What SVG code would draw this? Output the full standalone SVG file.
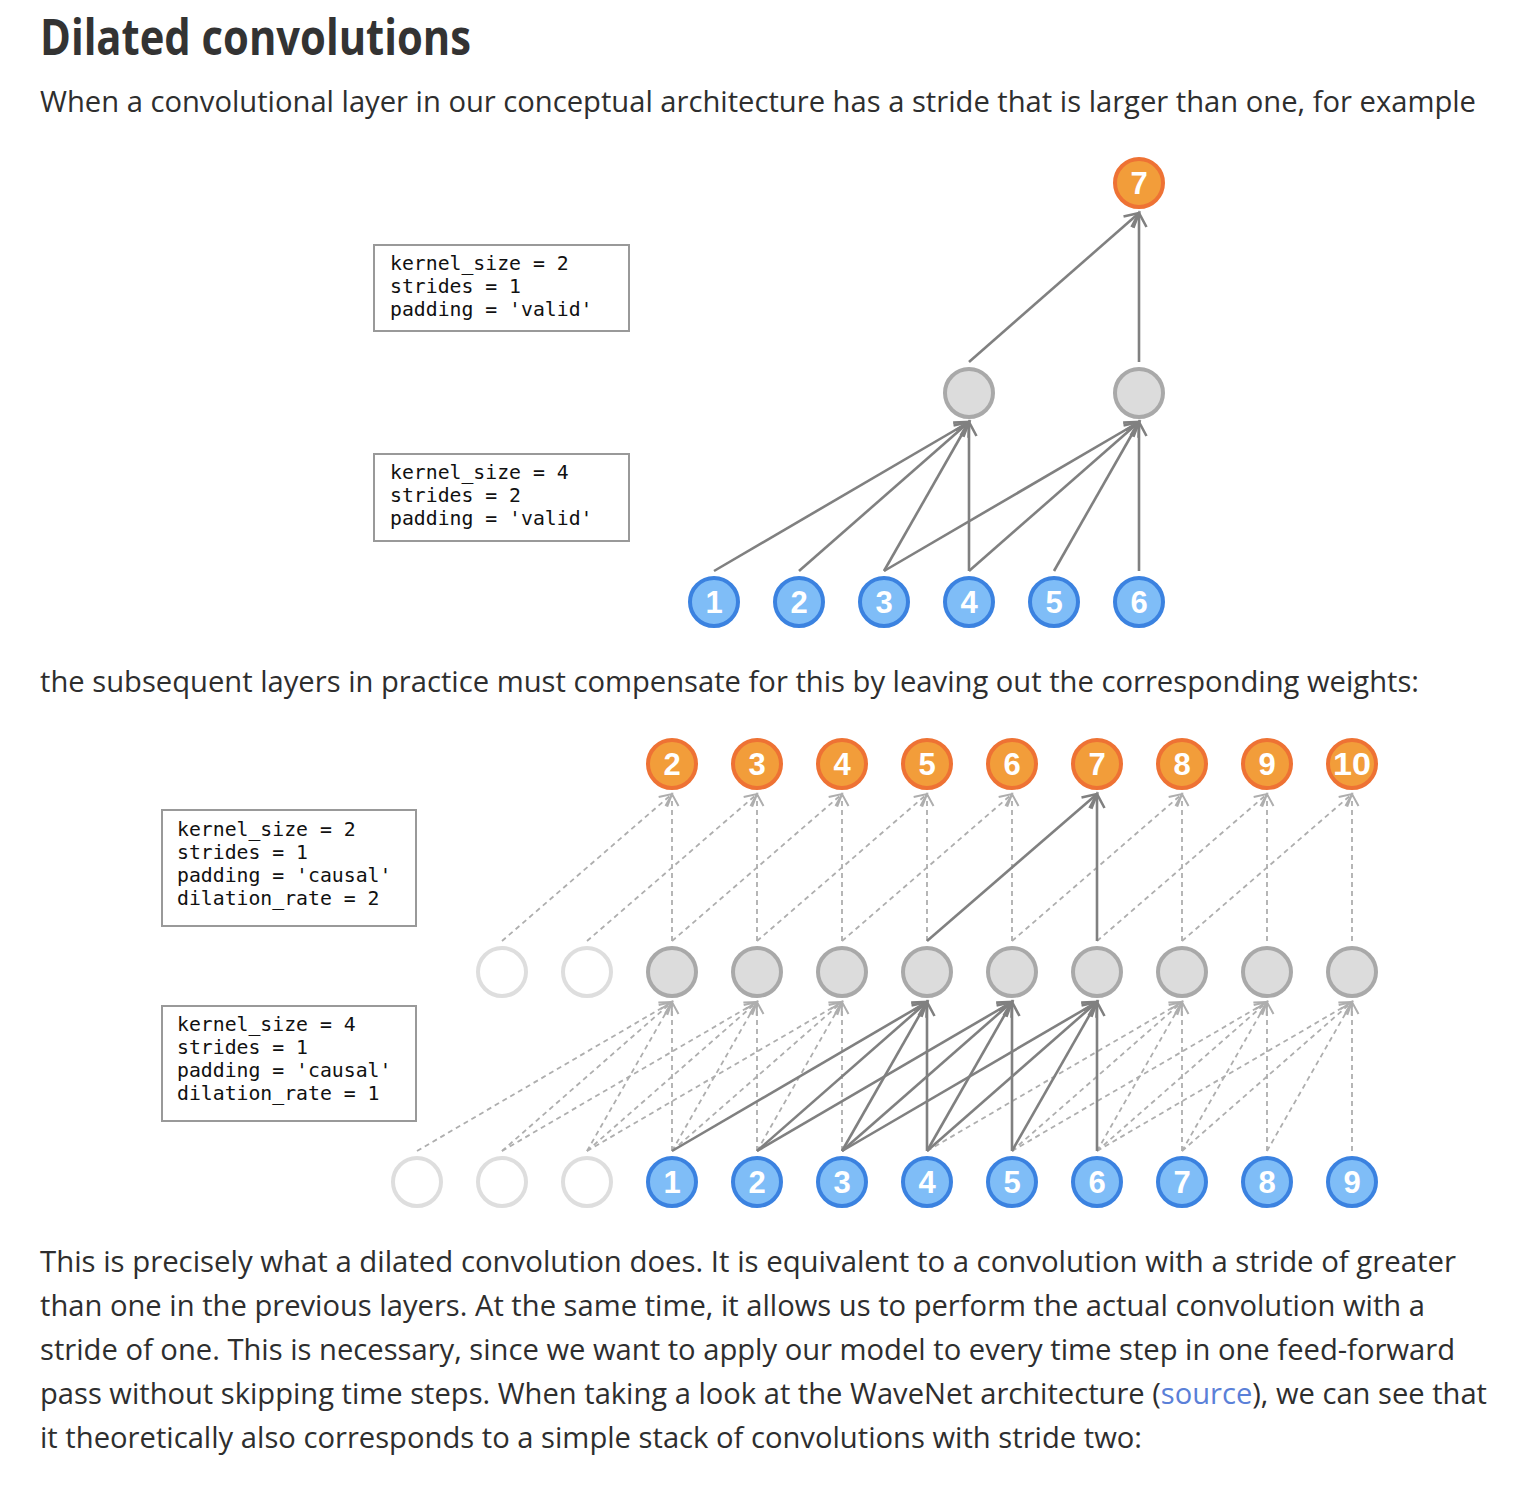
<svg xmlns="http://www.w3.org/2000/svg" width="1536" height="1504" viewBox="0 0 1536 1504">
<style>
.title{font-family:"Open Sans","Noto Sans","Liberation Sans",sans-serif;font-weight:700;font-size:50px;fill:#333}
.body{font-family:"Open Sans","Noto Sans","Liberation Sans",sans-serif;font-size:30px;fill:#2e2e2e}
.link{fill:#5a80d8}
.box{fill:#fff;stroke:#999;stroke-width:2}
.mono{font-family:"DejaVu Sans Mono","Liberation Mono",monospace;font-size:19.8px;fill:#111}
.in{fill:#7fbdf7;stroke:#3b82e0;stroke-width:4}
.out{fill:#f29d3a;stroke:#ee7234;stroke-width:4}
.hid{fill:#dcdcdc;stroke:#a9a9a9;stroke-width:4}
.emp{fill:#fff;stroke:#dedede;stroke-width:4}
.lbl{font-family:"Liberation Sans",Arial,sans-serif;font-weight:700;font-size:31px;fill:#fff;text-anchor:middle}
.s{stroke:#808080;stroke-width:2.6;fill:none;marker-end:url(#ah)}
.d{stroke:#aeaeae;stroke-width:1.8;fill:none;stroke-dasharray:5 4;marker-end:url(#ahd)}
</style>
<defs>
<marker id="ah" markerUnits="userSpaceOnUse" viewBox="-16 -10 20 20" refX="0" refY="0" markerWidth="20" markerHeight="20" orient="auto">
<path d="M-14,-7.5 L0,0 L-14,7.5" fill="none" stroke="#808080" stroke-width="2.6" stroke-dasharray="none"/>
</marker>
<marker id="ahd" markerUnits="userSpaceOnUse" viewBox="-16 -10 20 20" refX="0" refY="0" markerWidth="20" markerHeight="20" orient="auto">
<path d="M-12,-6.5 L0,0 L-12,6.5" fill="none" stroke="#aeaeae" stroke-width="2" stroke-dasharray="none"/>
</marker>
</defs>
<rect width="1536" height="1504" fill="#fff"/>

<text class="title" x="40" y="55" textLength="431" lengthAdjust="spacingAndGlyphs">Dilated convolutions</text>
<text class="body" x="40" y="112" textLength="1436" lengthAdjust="spacingAndGlyphs">When a convolutional layer in our conceptual architecture has a stride that is larger than one, for example</text>
<text class="body" x="40" y="692" textLength="1379" lengthAdjust="spacingAndGlyphs">the subsequent layers in practice must compensate for this by leaving out the corresponding weights:</text>
<text class="body" x="40" y="1272" textLength="1416" lengthAdjust="spacingAndGlyphs">This is precisely what a dilated convolution does. It is equivalent to a convolution with a stride of greater</text>
<text class="body" x="40" y="1316" textLength="1385" lengthAdjust="spacingAndGlyphs">than one in the previous layers. At the same time, it allows us to perform the actual convolution with a</text>
<text class="body" x="40" y="1360" textLength="1415" lengthAdjust="spacingAndGlyphs">stride of one. This is necessary, since we want to apply our model to every time step in one feed-forward</text>
<text class="body" x="40" y="1404" textLength="1447" lengthAdjust="spacingAndGlyphs">pass without skipping time steps. When taking a look at the WaveNet architecture (<tspan class="link">source</tspan>), we can see that</text>
<text class="body" x="40" y="1448" textLength="1102" lengthAdjust="spacingAndGlyphs">it theoretically also corresponds to a simple stack of convolutions with stride two:</text>

<g id="box1">
<rect class="box" x="374" y="245" width="255" height="86"/>
<text class="mono" x="390" y="270">kernel_size = 2</text>
<text class="mono" x="390" y="293">strides = 1</text>
<text class="mono" x="390" y="316">padding = 'valid'</text>
</g>
<g id="box2">
<rect class="box" x="374" y="454" width="255" height="87"/>
<text class="mono" x="390" y="479">kernel_size = 4</text>
<text class="mono" x="390" y="502">strides = 2</text>
<text class="mono" x="390" y="525">padding = 'valid'</text>
</g>
<g id="box3">
<rect class="box" x="162" y="810" width="254" height="116"/>
<text class="mono" x="177" y="836">kernel_size = 2</text>
<text class="mono" x="177" y="859">strides = 1</text>
<text class="mono" x="177" y="882">padding = 'causal'</text>
<text class="mono" x="177" y="905">dilation_rate = 2</text>
</g>
<g id="box4">
<rect class="box" x="162" y="1006" width="254" height="115"/>
<text class="mono" x="177" y="1031">kernel_size = 4</text>
<text class="mono" x="177" y="1054">strides = 1</text>
<text class="mono" x="177" y="1077">padding = 'causal'</text>
<text class="mono" x="177" y="1100">dilation_rate = 1</text>
</g>

<g id="connectors-top">
<line class="s" x1="714" y1="571" x2="969" y2="422"/>
<line class="s" x1="799" y1="571" x2="969" y2="422"/>
<line class="s" x1="884" y1="571" x2="969" y2="422"/>
<line class="s" x1="969" y1="571" x2="969" y2="422"/>
<line class="s" x1="884" y1="571" x2="1139" y2="422"/>
<line class="s" x1="969" y1="571" x2="1139" y2="422"/>
<line class="s" x1="1054" y1="571" x2="1139" y2="422"/>
<line class="s" x1="1139" y1="571" x2="1139" y2="422"/>
<line class="s" x1="969" y1="362" x2="1139" y2="213"/>
<line class="s" x1="1139" y1="362" x2="1139" y2="213"/>
</g>

<g id="connectors-bottom">
<line class="d" x1="502" y1="941" x2="672" y2="794"/>
<line class="d" x1="672" y1="941" x2="672" y2="794"/>
<line class="d" x1="587" y1="941" x2="757" y2="794"/>
<line class="d" x1="757" y1="941" x2="757" y2="794"/>
<line class="d" x1="672" y1="941" x2="842" y2="794"/>
<line class="d" x1="842" y1="941" x2="842" y2="794"/>
<line class="d" x1="757" y1="941" x2="927" y2="794"/>
<line class="d" x1="927" y1="941" x2="927" y2="794"/>
<line class="d" x1="842" y1="941" x2="1012" y2="794"/>
<line class="d" x1="1012" y1="941" x2="1012" y2="794"/>
<line class="d" x1="1012" y1="941" x2="1182" y2="794"/>
<line class="d" x1="1182" y1="941" x2="1182" y2="794"/>
<line class="d" x1="1097" y1="941" x2="1267" y2="794"/>
<line class="d" x1="1267" y1="941" x2="1267" y2="794"/>
<line class="d" x1="1182" y1="941" x2="1352" y2="794"/>
<line class="d" x1="1352" y1="941" x2="1352" y2="794"/>

<line class="d" x1="417" y1="1151" x2="672" y2="1002"/>
<line class="d" x1="502" y1="1151" x2="672" y2="1002"/>
<line class="d" x1="587" y1="1151" x2="672" y2="1002"/>
<line class="d" x1="672" y1="1151" x2="672" y2="1002"/>
<line class="d" x1="502" y1="1151" x2="757" y2="1002"/>
<line class="d" x1="587" y1="1151" x2="757" y2="1002"/>
<line class="d" x1="672" y1="1151" x2="757" y2="1002"/>
<line class="d" x1="757" y1="1151" x2="757" y2="1002"/>
<line class="d" x1="587" y1="1151" x2="842" y2="1002"/>
<line class="d" x1="672" y1="1151" x2="842" y2="1002"/>
<line class="d" x1="757" y1="1151" x2="842" y2="1002"/>
<line class="d" x1="842" y1="1151" x2="842" y2="1002"/>
<line class="d" x1="927" y1="1151" x2="1182" y2="1002"/>
<line class="d" x1="1012" y1="1151" x2="1182" y2="1002"/>
<line class="d" x1="1097" y1="1151" x2="1182" y2="1002"/>
<line class="d" x1="1182" y1="1151" x2="1182" y2="1002"/>
<line class="d" x1="1012" y1="1151" x2="1267" y2="1002"/>
<line class="d" x1="1097" y1="1151" x2="1267" y2="1002"/>
<line class="d" x1="1182" y1="1151" x2="1267" y2="1002"/>
<line class="d" x1="1267" y1="1151" x2="1267" y2="1002"/>
<line class="d" x1="1097" y1="1151" x2="1352" y2="1002"/>
<line class="d" x1="1182" y1="1151" x2="1352" y2="1002"/>
<line class="d" x1="1267" y1="1151" x2="1352" y2="1002"/>
<line class="d" x1="1352" y1="1151" x2="1352" y2="1002"/>

<line class="s" x1="927" y1="941" x2="1097" y2="794"/>
<line class="s" x1="1097" y1="941" x2="1097" y2="794"/>
<line class="s" x1="672" y1="1151" x2="927" y2="1002"/>
<line class="s" x1="757" y1="1151" x2="927" y2="1002"/>
<line class="s" x1="842" y1="1151" x2="927" y2="1002"/>
<line class="s" x1="927" y1="1151" x2="927" y2="1002"/>
<line class="s" x1="757" y1="1151" x2="1012" y2="1002"/>
<line class="s" x1="842" y1="1151" x2="1012" y2="1002"/>
<line class="s" x1="927" y1="1151" x2="1012" y2="1002"/>
<line class="s" x1="1012" y1="1151" x2="1012" y2="1002"/>
<line class="s" x1="842" y1="1151" x2="1097" y2="1002"/>
<line class="s" x1="927" y1="1151" x2="1097" y2="1002"/>
<line class="s" x1="1012" y1="1151" x2="1097" y2="1002"/>
<line class="s" x1="1097" y1="1151" x2="1097" y2="1002"/>
</g>

<g id="top-in1"><circle class="in" cx="714" cy="602" r="24"/><text class="lbl" x="714" y="613">1</text></g>
<g id="top-in2"><circle class="in" cx="799" cy="602" r="24"/><text class="lbl" x="799" y="613">2</text></g>
<g id="top-in3"><circle class="in" cx="884" cy="602" r="24"/><text class="lbl" x="884" y="613">3</text></g>
<g id="top-in4"><circle class="in" cx="969" cy="602" r="24"/><text class="lbl" x="969" y="613">4</text></g>
<g id="top-in5"><circle class="in" cx="1054" cy="602" r="24"/><text class="lbl" x="1054" y="613">5</text></g>
<g id="top-in6"><circle class="in" cx="1139" cy="602" r="24"/><text class="lbl" x="1139" y="613">6</text></g>
<g id="top-h1"><circle class="hid" cx="969" cy="393" r="24"/></g>
<g id="top-h2"><circle class="hid" cx="1139" cy="393" r="24"/></g>
<g id="top-out7"><circle class="out" cx="1139" cy="183" r="24"/><text class="lbl" x="1139" y="194">7</text></g>

<g id="b-in-e1"><circle class="emp" cx="417" cy="1182" r="24"/></g>
<g id="b-in-e2"><circle class="emp" cx="502" cy="1182" r="24"/></g>
<g id="b-in-e3"><circle class="emp" cx="587" cy="1182" r="24"/></g>
<g id="b-in1"><circle class="in" cx="672" cy="1182" r="24"/><text class="lbl" x="672" y="1193">1</text></g>
<g id="b-in2"><circle class="in" cx="757" cy="1182" r="24"/><text class="lbl" x="757" y="1193">2</text></g>
<g id="b-in3"><circle class="in" cx="842" cy="1182" r="24"/><text class="lbl" x="842" y="1193">3</text></g>
<g id="b-in4"><circle class="in" cx="927" cy="1182" r="24"/><text class="lbl" x="927" y="1193">4</text></g>
<g id="b-in5"><circle class="in" cx="1012" cy="1182" r="24"/><text class="lbl" x="1012" y="1193">5</text></g>
<g id="b-in6"><circle class="in" cx="1097" cy="1182" r="24"/><text class="lbl" x="1097" y="1193">6</text></g>
<g id="b-in7"><circle class="in" cx="1182" cy="1182" r="24"/><text class="lbl" x="1182" y="1193">7</text></g>
<g id="b-in8"><circle class="in" cx="1267" cy="1182" r="24"/><text class="lbl" x="1267" y="1193">8</text></g>
<g id="b-in9"><circle class="in" cx="1352" cy="1182" r="24"/><text class="lbl" x="1352" y="1193">9</text></g>

<g id="b-h-e1"><circle class="emp" cx="502" cy="972" r="24"/></g>
<g id="b-h-e2"><circle class="emp" cx="587" cy="972" r="24"/></g>
<g id="b-h1"><circle class="hid" cx="672" cy="972" r="24"/></g>
<g id="b-h2"><circle class="hid" cx="757" cy="972" r="24"/></g>
<g id="b-h3"><circle class="hid" cx="842" cy="972" r="24"/></g>
<g id="b-h4"><circle class="hid" cx="927" cy="972" r="24"/></g>
<g id="b-h5"><circle class="hid" cx="1012" cy="972" r="24"/></g>
<g id="b-h6"><circle class="hid" cx="1097" cy="972" r="24"/></g>
<g id="b-h7"><circle class="hid" cx="1182" cy="972" r="24"/></g>
<g id="b-h8"><circle class="hid" cx="1267" cy="972" r="24"/></g>
<g id="b-h9"><circle class="hid" cx="1352" cy="972" r="24"/></g>

<g id="b-out2"><circle class="out" cx="672" cy="764" r="24"/><text class="lbl" x="672" y="775">2</text></g>
<g id="b-out3"><circle class="out" cx="757" cy="764" r="24"/><text class="lbl" x="757" y="775">3</text></g>
<g id="b-out4"><circle class="out" cx="842" cy="764" r="24"/><text class="lbl" x="842" y="775">4</text></g>
<g id="b-out5"><circle class="out" cx="927" cy="764" r="24"/><text class="lbl" x="927" y="775">5</text></g>
<g id="b-out6"><circle class="out" cx="1012" cy="764" r="24"/><text class="lbl" x="1012" y="775">6</text></g>
<g id="b-out7"><circle class="out" cx="1097" cy="764" r="24"/><text class="lbl" x="1097" y="775">7</text></g>
<g id="b-out8"><circle class="out" cx="1182" cy="764" r="24"/><text class="lbl" x="1182" y="775">8</text></g>
<g id="b-out9"><circle class="out" cx="1267" cy="764" r="24"/><text class="lbl" x="1267" y="775">9</text></g>
<g id="b-out10"><circle class="out" cx="1352" cy="764" r="24"/><text class="lbl" x="1352" y="775" textLength="38" lengthAdjust="spacingAndGlyphs">10</text></g>
</svg>
